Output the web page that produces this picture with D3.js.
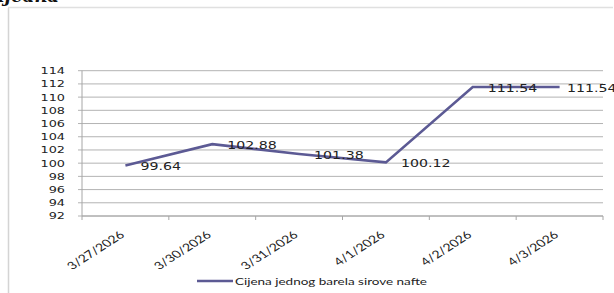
<!DOCTYPE html>
<html><head><meta charset="utf-8">
<script src="https://cdn.jsdelivr.net/npm/d3@7"></script>
<style>body{margin:0;background:#fff;}svg{display:block;}</style>
</head><body><svg id="c" width="614" height="293"></svg>
<script>
const categories = ["3/27/2026","3/30/2026","3/31/2026","4/1/2026","4/2/2026","4/3/2026"];
const values = [99.64, 102.88, 101.38, 100.12, 111.54, 111.54];
const valueLabels = ["99.64","102.88","101.38","100.12","111.54","111.54"];
const yTicks = [92,94,96,98,100,102,104,106,108,110,112,114];
const seriesName = "Cijena jednog barela sirove nafte";
const titleText = "ijeana";

(function(){
const SX = 1.35;
const svg = d3.select("#c");
const pL = 82, pR = 603, pT = 70.7, pB = 216;
const x = d3.scaleBand().domain(categories).range([pL, pR]);
const y = d3.scaleLinear().domain([92,114]).range([pB, pT]);
const lineColor = "#5c5a94";
const cx = c => x(c) + x.bandwidth()/2;

// frame
svg.append("line").attr("x1",8.5).attr("x2",8.5).attr("y1",8).attr("y2",293).attr("stroke","#d4d4d4").attr("stroke-width",1.5);
svg.append("line").attr("x1",8).attr("x2",613).attr("y1",7.5).attr("y2",7.5).attr("stroke","#e0e0e0").attr("stroke-width",1.5);
svg.append("text").attr("x",-2).attr("y",1.5).attr("font-family","DejaVu Serif").attr("font-weight","bold").attr("font-style","italic").attr("font-size",18).attr("fill","#111").text(titleText);

// gridlines
svg.append("g").selectAll("line").data(yTicks).join("line")
  .attr("x1",pL-4).attr("x2",pR).attr("y1",d=>y(d)).attr("y2",d=>y(d))
  .attr("stroke","#b3b3b3").attr("stroke-width",1);
svg.append("line").attr("x1",pL).attr("x2",pL).attr("y1",pT).attr("y2",pB).attr("stroke","#a6a6a6");
svg.append("line").attr("x1",pL).attr("x2",pR).attr("y1",pB).attr("y2",pB).attr("stroke","#a6a6a6");
const bounds = categories.map(c=>x(c)).concat([pR]);
svg.append("g").selectAll("line").data(bounds).join("line")
  .attr("x1",d=>d).attr("x2",d=>d).attr("y1",pB).attr("y2",pB+4).attr("stroke","#a6a6a6");

// y labels
svg.append("g").selectAll("text").data(yTicks).join("text")
  .attr("transform",d=>`translate(${pL-17},${y(d)}) scale(${SX},1)`)
  .attr("text-anchor","end").attr("dy","0.36em")
  .attr("font-family","DejaVu Sans").attr("font-size",9.5).attr("fill","#222").text(d=>d);

// x labels
svg.append("g").selectAll("text").data(categories).join("text")
  .attr("transform",d=>`translate(${cx(d)},${pB+20}) scale(${SX},1) rotate(-41)`)
  .attr("text-anchor","end")
  .attr("font-family","Lato").attr("font-size",10.5).attr("fill","#222").text(d=>d);

// line
const line = d3.line().x((d,i)=>cx(categories[i])).y(d=>y(d));
svg.append("path").datum(values).attr("d",line).attr("fill","none").attr("stroke",lineColor).attr("stroke-width",2.6);

// data labels
svg.append("g").selectAll("text").data(values).join("text")
  .attr("transform",(d,i)=>`translate(${Math.min(cx(categories[i])+15, 567)},${y(d)+1}) scale(${SX},1)`)
  .attr("dy","0.36em")
  .attr("font-family","DejaVu Sans").attr("font-size",10.5).attr("fill","#222").text((d,i)=>valueLabels[i]);

// legend
svg.append("line").attr("x1",197).attr("x2",233).attr("y1",281).attr("y2",281).attr("stroke",lineColor).attr("stroke-width",2.6);
svg.append("text").attr("transform",`translate(235,281) scale(${SX},1)`).attr("dy","0.35em")
  .attr("font-family","Lato").attr("font-size",10).attr("fill","#222").text(seriesName);
})();
</script></body></html>
